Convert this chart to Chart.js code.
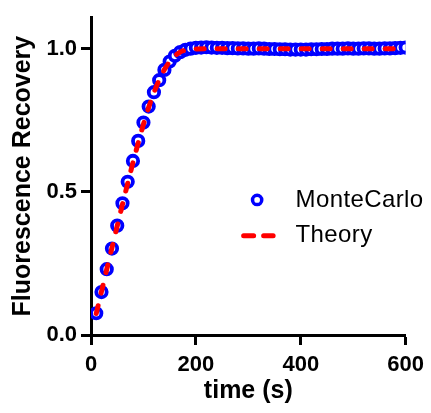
<!DOCTYPE html>
<html>
<head>
<meta charset="utf-8">
<script src="https://cdn.jsdelivr.net/npm/chart.js@4/dist/chart.umd.min.js"></script>
<style>
  html, body { margin: 0; padding: 0; background: #fff; }
  #wrap { width: 431px; height: 413px; }
</style>
</head>
<body>
<div id="wrap"><canvas id="c" width="431" height="413"></canvas></div>
<script>
// ---- data ----
const mcTime = [10,20,30,40,50,60,70,80,90,100,110,120,130,140,150,160,170,180,190,200,
  210,220,230,240,250,260,270,280,290,300,310,320,330,340,350,360,370,380,390,400,
  410,420,430,440,450,460,470,480,490,500,510,520,530,540,550,560,570,580,590,600];
const mcValues = [0.076,0.150,0.230,0.302,0.382,0.460,0.535,0.608,0.678,0.742,
  0.798,0.848,0.890,0.926,0.955,0.975,0.988,0.996,1.000,1.003,
  1.004,1.005,1.004,1.003,1.003,1.002,1.002,1.001,1.001,1.000,
  1.000,1.001,1.000,0.999,0.999,0.998,0.998,0.997,0.997,0.997,
  0.997,0.998,0.998,0.999,0.999,1.000,1.000,1.000,1.001,1.000,
  1.000,1.001,1.001,1.000,1.000,1.001,1.001,1.002,1.003,1.004];
const theoryTime = [10,20,30,40,50,60,70,80,90,100,110,120,130,140,150,160,170,180,190,200,
  250,300,350,400,450,500,550,600];
const theoryValues = [0.075,0.152,0.229,0.305,0.381,0.456,0.530,0.602,0.671,0.736,
  0.795,0.847,0.891,0.927,0.955,0.975,0.988,0.995,0.998,0.999,
  1.000,1.000,1.000,1.000,1.000,1.000,1.000,1.000];
const xTickValues = [0,200,400,600];
const yTickValues = [0,0.5,1.0];
const seriesNames = ['MonteCarlo','Theory'];
const xTitle = 'time (s)';
const yTitle = 'Fluorescence Recovery';

const FONT = "'Liberation Sans', Arial, Helvetica, sans-serif";
const BLUE = '#0000ff';
const RED = '#ff0000';

const mcData = mcTime.map((t, i) => ({x: t, y: mcValues[i]}));
const thData = theoryTime.map((t, i) => ({x: t, y: theoryValues[i]}));

const whiteBg = {
  id: 'whiteBg',
  beforeDraw(chart) {
    const ctx = chart.ctx;
    ctx.save();
    ctx.fillStyle = '#fff';
    ctx.fillRect(0, 0, chart.width, chart.height);
    ctx.restore();
  }
};

const customLegend = {
  id: 'customLegend',
  afterDraw(chart) {
    const ctx = chart.ctx;
    const a = chart.chartArea;
    const mc = chart.data.datasets[0];
    const th = chart.data.datasets[1];
    const markX = a.left + (a.right - a.left) * 0.528;
    const textX = a.left + (a.right - a.left) * 0.650;
    const y1 = a.top + (a.bottom - a.top) * 0.575;
    const y2 = a.top + (a.bottom - a.top) * 0.688;
    ctx.save();
    // marker
    ctx.beginPath();
    ctx.arc(markX, y1, 4.6, 0, Math.PI * 2);
    ctx.lineWidth = 3.5;
    ctx.strokeStyle = mc.pointBorderColor;
    ctx.fillStyle = '#fff';
    ctx.fill();
    ctx.stroke();
    // dashed line
    ctx.beginPath();
    ctx.setLineDash([10, 10]);
    ctx.lineCap = 'round';
    ctx.lineWidth = th.borderWidth;
    ctx.strokeStyle = th.borderColor;
    ctx.moveTo(markX - 13.5, y2);
    ctx.lineTo(markX + 16, y2);
    ctx.stroke();
    ctx.setLineDash([]);
    // text
    ctx.fillStyle = '#000';
    ctx.font = '24px ' + FONT;
    if ('letterSpacing' in ctx) ctx.letterSpacing = '0.4px';
    ctx.textBaseline = 'middle';
    ctx.textAlign = 'left';
    ctx.fillText(mc.label, textX, y1);
    ctx.fillText(th.label, textX, y2);
    ctx.restore();
  }
};

new Chart(document.getElementById('c'), {
  type: 'scatter',
  data: {
    datasets: [
      {
        label: seriesNames[0],
        data: mcData,
        showLine: false,
        pointStyle: 'circle',
        pointRadius: 5.2,
        pointBorderWidth: 3.8,
        pointBorderColor: BLUE,
        pointBackgroundColor: '#fff',
        order: 2
      },
      {
        label: seriesNames[1],
        data: thData,
        showLine: true,
        pointRadius: 0,
        borderColor: RED,
        borderWidth: 5,
        borderDash: [8, 13],
        borderCapStyle: 'round',
        cubicInterpolationMode: 'monotone',
        fill: false,
        order: 1
      }
    ]
  },
  options: {
    responsive: false,
    animation: false,
    events: [],
    layout: { padding: { left: 0, top: 15, right: 23, bottom: 0 } },
    plugins: {
      legend: { display: false },
      tooltip: { enabled: false },
      title: { display: false }
    },
    scales: {
      x: {
        type: 'linear',
        min: 0,
        max: 600,
        afterFit(s) { s.height = 78; },
        afterBuildTicks(s) { s.ticks = xTickValues.map(v => ({value: v})); },
        border: { display: true, width: 3, color: '#000' },
        grid: { display: true, drawOnChartArea: false, drawTicks: true, tickLength: 10, tickWidth: 3, tickColor: '#000', color: '#000' },
        ticks: { color: '#000', font: { family: FONT, size: 22, weight: 'bold' }, padding: 7, maxRotation: 0 },
        title: { display: true, text: xTitle, color: '#000', font: { family: FONT, size: 25, weight: 'bold' }, padding: { top: 0, bottom: 7 } }
      },
      y: {
        type: 'linear',
        min: 0,
        max: 1.11,
        afterFit(s) { s.width = 91; },
        afterBuildTicks(s) { s.ticks = yTickValues.map(v => ({value: v})); },
        border: { display: true, width: 3, color: '#000' },
        grid: { display: true, drawOnChartArea: false, drawTicks: true, tickLength: 10, tickWidth: 3, tickColor: '#000', color: '#000' },
        ticks: { color: '#000', font: { family: FONT, size: 22, weight: 'bold' }, padding: 4,
          callback: (v) => Number(v).toFixed(1) },
        title: { display: true, text: yTitle, color: '#000', font: { family: FONT, size: 25, weight: 'bold' }, padding: { top: 8, bottom: 0 } }
      }
    }
  },
  plugins: [whiteBg, customLegend]
});
</script>
</body>
</html>
